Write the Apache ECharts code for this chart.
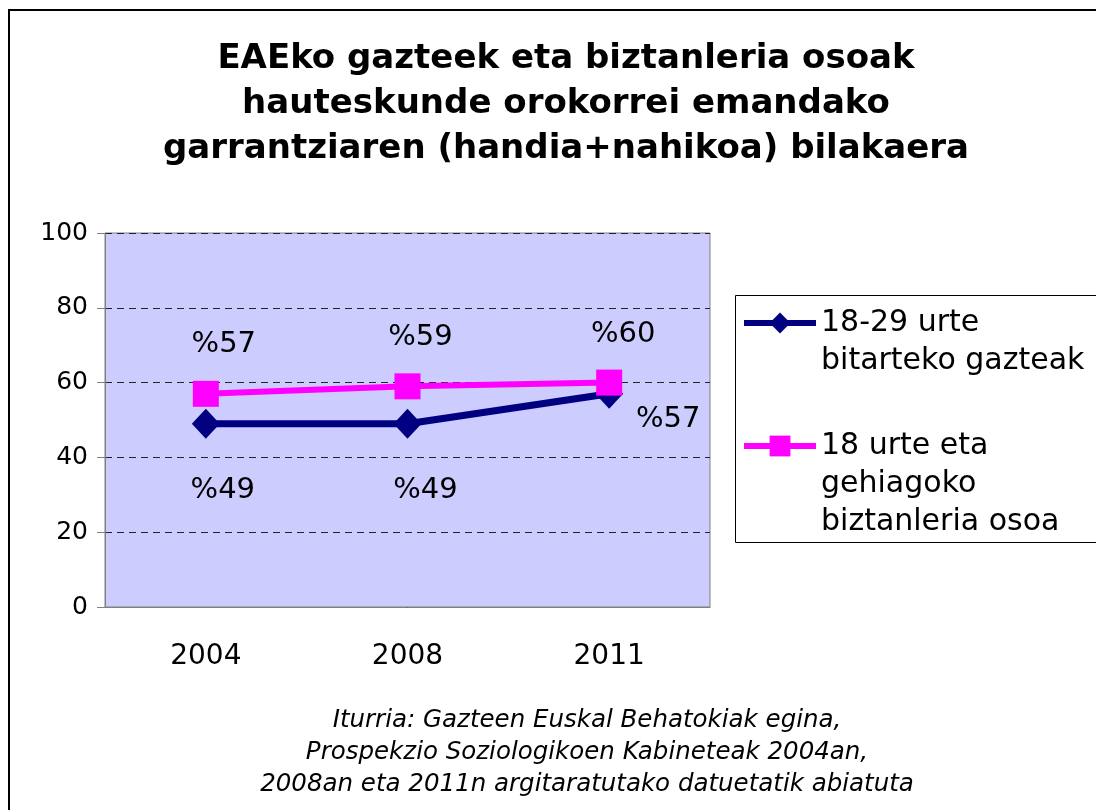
<!DOCTYPE html>
<html>
<head>
<meta charset="utf-8">
<script src="https://cdn.jsdelivr.net/npm/echarts@6/dist/echarts.min.js"></script>
<style>
  html, body { margin: 0; padding: 0; background: #fff; }
  #chart { width: 1096px; height: 810px; }
</style>
</head>
<body>
<div id="chart"></div>
<script>
var years = ['2004', '2008', '2011'];
var gazteak = [49, 49, 57];
var osoa = [57, 59, 60];
var seriesNames = ['18-29 urte\nbitarteko gazteak', '18 urte eta\ngehiagoko\nbiztanleria osoa'];
var yTicks = { min: 0, max: 100, interval: 20 };

var font = 'DejaVu Sans, Verdana, sans-serif';

// label offsets per point (x, y from marker centre)
var navyOffsets = [[17, 67], [18, 67], [59, 26]];
var pinkOffsets = [[18, -49], [13, -49], [14, -48]];

function withLabels(values, offsets) {
    return values.map(function (v, i) {
        return { value: v, label: { offset: offsets[i] } };
    });
}

var legendText = { fontFamily: font, fontSize: 30, color: '#000', lineHeight: 38 };

var chart = echarts.init(document.getElementById('chart'));
chart.setOption({
    backgroundColor: '#ffffff',
    animation: false,
    title: [
        {
            text: 'EAEko gazteek eta biztanleria osoak\nhauteskunde orokorrei emandako\ngarrantziaren (handia+nahikoa) bilakaera',
            left: 561,
            top: 32,
            textAlign: 'center',
            textStyle: { fontFamily: font, fontSize: 34, fontWeight: 'bold', color: '#000', lineHeight: 45 }
        },
        {
            text: 'Iturria: Gazteen Euskal Behatokiak egina,\nProspekzio Soziologikoen Kabineteak 2004an,\n2008an eta 2011n argitaratutako datuetatik abiatuta',
            left: 582,
            top: 700,
            textAlign: 'center',
            textStyle: { fontFamily: font, fontSize: 24.5, fontWeight: 'normal', fontStyle: 'italic', color: '#000', lineHeight: 32 }
        }
    ],
    graphic: [
        {
            type: 'rect',
            shape: { x: 9, y: 10, width: 1200, height: 1000 },
            style: { fill: 'none', stroke: '#000', lineWidth: 2 },
            silent: true
        },
        {
            type: 'rect',
            shape: { x: 735.5, y: 295.5, width: 361, height: 247 },
            style: { fill: '#fff', stroke: '#000', lineWidth: 1 },
            silent: true,
            z: -1
        }
    ],
    legend: [
        {
            data: [seriesNames[0]],
            left: 741,
            top: 266,
            padding: 0,
            itemWidth: 72,
            itemHeight: 26,
            lineStyle: { width: 6 },
            formatter: function (n) { return '\n' + n; },
            textStyle: legendText
        },
        {
            data: [seriesNames[1]],
            left: 741,
            top: 351,
            padding: 0,
            itemWidth: 72,
            itemHeight: 26,
            lineStyle: { width: 6 },
            formatter: function (n) { return '\n\n' + n; },
            textStyle: legendText
        }
    ],
    grid: {
        left: 105,
        top: 233,
        right: 386,
        bottom: 203,
        show: true,
        backgroundColor: '#ccccff',
        borderColor: '#808080',
        borderWidth: 1
    },
    xAxis: {
        type: 'category',
        data: years,
        boundaryGap: true,
        axisLine: { lineStyle: { color: '#808080', width: 1 } },
        axisTick: { length: 8, lineStyle: { color: '#808080' } },
        axisLabel: { fontFamily: font, fontSize: 28, color: '#000', margin: 36 }
    },
    yAxis: {
        type: 'value',
        min: yTicks.min,
        max: yTicks.max,
        interval: yTicks.interval,
        axisLine: { show: true, lineStyle: { color: '#808080', width: 1 } },
        axisTick: { show: true, length: 8, lineStyle: { color: '#808080' } },
        axisLabel: { fontFamily: font, fontSize: 25, color: '#000', margin: 17 },
        splitLine: { lineStyle: { color: '#222', type: [7, 5], width: 1 } }
    },
    series: [
        {
            name: seriesNames[0],
            type: 'line',
            data: withLabels(gazteak, navyOffsets),
            symbol: 'diamond',
            symbolSize: [28, 30],
            lineStyle: { color: '#000080', width: 7 },
            itemStyle: { color: '#000080' },
            label: {
                show: true,
                position: 'inside',
                formatter: '%{c}',
                fontFamily: font,
                fontSize: 29,
                color: '#000'
            },
            z: 3
        },
        {
            name: seriesNames[1],
            type: 'line',
            data: withLabels(osoa, pinkOffsets),
            symbol: 'rect',
            symbolSize: 26,
            lineStyle: { color: '#ff00ff', width: 6 },
            itemStyle: { color: '#ff00ff' },
            label: {
                show: true,
                position: 'inside',
                formatter: '%{c}',
                fontFamily: font,
                fontSize: 29,
                color: '#000'
            },
            z: 4
        }
    ]
});
</script>
</body>
</html>
